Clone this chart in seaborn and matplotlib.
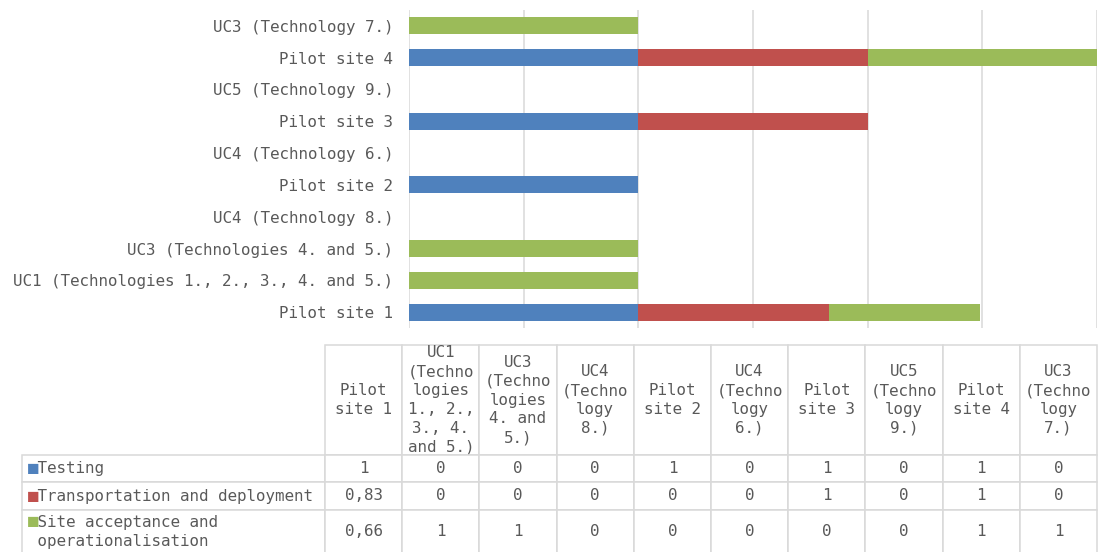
import matplotlib
matplotlib.use("Agg")
import matplotlib.pyplot as plt
import seaborn as sns
import pandas as pd
import numpy as np

# data, in table order (Pilot site 1 is the bottom bar)
categories = [
    "Pilot site 1",
    "UC1 (Technologies 1., 2., 3., 4. and 5.)",
    "UC3 (Technologies 4. and 5.)",
    "UC4 (Technology 8.)",
    "Pilot site 2",
    "UC4 (Technology 6.)",
    "Pilot site 3",
    "UC5 (Technology 9.)",
    "Pilot site 4",
    "UC3 (Technology 7.)",
]
table_headers = [
    "Pilot\nsite 1",
    "UC1\n(Techno\nlogies\n1., 2.,\n3., 4.\nand 5.)",
    "UC3\n(Techno\nlogies\n4. and\n5.)",
    "UC4\n(Techno\nlogy\n8.)",
    "Pilot\nsite 2",
    "UC4\n(Techno\nlogy\n6.)",
    "Pilot\nsite 3",
    "UC5\n(Techno\nlogy\n9.)",
    "Pilot\nsite 4",
    "UC3\n(Techno\nlogy\n7.)",
]
series_names = ["Testing", "Transportation and deployment",
                "Site acceptance and\n operationalisation"]
testing = [1, 0, 0, 0, 1, 0, 1, 0, 1, 0]
transport = [0.83, 0, 0, 0, 0, 0, 1, 0, 1, 0]
acceptance = [0.66, 1, 1, 0, 0, 0, 0, 0, 1, 1]
colors = ["#4F81BD", "#C0504D", "#9BBB59"]

text_color = "#595959"
line_color = "#D9D9D9"
fsize = 11.4
lsp = 1.32

sns.set_style("white")
plt.rcParams["font.family"] = ["DejaVu Sans Mono", "DejaVu Sans"]

W, H = 1099, 552
fig = plt.figure(figsize=(W / 100, H / 100), dpi=100)

# stacked bars: draw cumulative totals, widest first
df = pd.DataFrame({"category": categories, "s1": testing, "s2": transport, "s3": acceptance})
df["c1"] = df["s1"]
df["c2"] = df["c1"] + df["s2"]
df["c3"] = df["c2"] + df["s3"]

ax = fig.add_axes([409 / W, 1 - 328 / H, 688 / W, 318 / H])
order = categories[::-1]
for col, color in zip(["c3", "c2", "c1"], colors[::-1]):
    sns.barplot(data=df, x=col, y="category", order=order, color=color,
                saturation=1, width=0.53, linewidth=0, orient="h", ax=ax)

ax.set_xlim(0, 3)
ax.set_xticks(np.arange(0, 3.01, 0.5))
ax.xaxis.grid(True, color=line_color, linewidth=1.1)
ax.set_axisbelow(True)
ax.tick_params(axis="x", length=0, labelbottom=False)
ax.tick_params(axis="y", length=0, pad=11.5, labelsize=fsize, labelcolor=text_color)
ax.set_xlabel("")
ax.set_ylabel("")
sns.despine(ax=ax, left=True, bottom=True)

# data table below the chart (first column holds the series names)
def fmt(v):
    return f"{v:g}".replace(".", ",")

cell_text = [[" " + name] + [fmt(v) for v in s]
             for name, s in zip(series_names, [testing, transport, acceptance])]
headers = [""] + table_headers

# bottom border runs just past the lower edge of the image
tax = fig.add_axes([22 / W, -2 / H, 1075 / W, 209 / H])
tax.axis("off")
tbl = tax.table(cellText=cell_text, colLabels=headers, cellLoc="center",
                colLoc="center", colWidths=[303 / 1075] + [77.2 / 1075] * 10,
                bbox=[0, 0, 1, 1])
tbl.auto_set_font_size(False)
tbl.set_fontsize(fsize)
row_heights = [110, 27, 28, 44]
for (r, c), cell in tbl.get_celld().items():
    cell.set_height(row_heights[r])
    cell.set_edgecolor(line_color)
    cell.set_linewidth(1.1)
    cell.get_text().set_color(text_color)
    cell.get_text().set_linespacing(lsp)
    if c == 0:
        cell._loc = "left"
        cell.get_text().set_horizontalalignment("left")
        cell.PAD = 6 / 303
        if r == 0:
            cell.visible_edges = ""

fig.canvas.draw()
# legend keys in the row label cells
for i, color in enumerate(colors):
    t = tbl[i + 1, 0].get_text()
    key = "■" + "\n " * t.get_text().count("\n")
    tax.text(*t.get_position(), key, transform=t.get_transform(), ha="left",
             va="center", color=color, fontsize=fsize + 1, linespacing=lsp)

fig.savefig("out.png", dpi=100)
